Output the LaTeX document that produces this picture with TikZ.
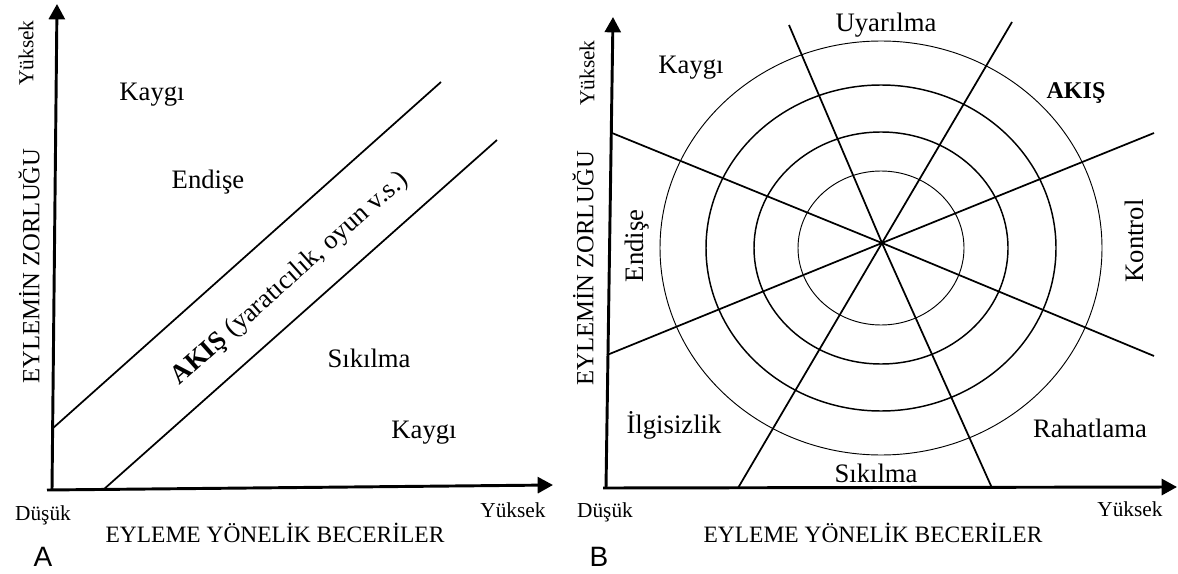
\documentclass[tikz,border=0pt]{standalone}
\usepackage{fontspec}
\setmainfont{Liberation Serif}
\newfontfamily\panelfont{Liberation Sans}
\usetikzlibrary{arrows.meta}
\begin{document}
\begin{tikzpicture}[x=0.75pt,y=-0.75pt,
  axis/.style={line width=2.2pt,-{Triangle[length=11.5pt,width=12pt]}},
  guide/.style={line width=1.3pt},
  ring/.style={line width=0.7pt},
  ringb/.style={line width=1.1pt},
  region/.style={font=\fontsize{20}{24}\selectfont,inner sep=0pt},
  axlabel/.style={font=\fontsize{17.6}{21}\selectfont,inner sep=0pt},
  vlabel/.style={font=\fontsize{18.5}{22}\selectfont,inner sep=0pt,rotate=90},
  endlabel/.style={font=\fontsize{16}{19}\selectfont,inner sep=0pt},
  panel/.style={font=\panelfont\fontsize{21}{25}\selectfont,inner sep=0pt}]
\useasboundingbox (0,0) rectangle (1178,574);

% ---------------- Panel A ----------------
\coordinate (Ao) at (52,490);
\coordinate (Ay) at (57,4);
\coordinate (Axs) at (47,490);
\coordinate (Ax) at (553,485);
\draw[axis] (Ao) -- (Ay);
\draw[axis] (Axs) -- (Ax);

\coordinate (Au1) at (52,429);
\coordinate (Au2) at (441,82);
\coordinate (Al1) at (103,490);
\coordinate (Al2) at (497,140);
\draw[guide] (Au1) -- (Au2);
\draw[guide] (Al1) -- (Al2);

\node[region] (kaygiA) at (152,95) {Kaygı};
\node[region] (endiseA) at (208,182) {Endişe};
\node[region] (sikilmaA) at (369,358) {Sıkılma};
\node[region] (kaygiA2) at (424,433) {Kaygı};
\node[region,rotate=41.7] (akisA) at (290,279) {\textbf{AKIŞ} (yaratıcılık, oyun v.s.)};

\node[vlabel] (yA) at (29,266) {EYLEMİN ZORLUĞU};
\node[endlabel,rotate=90] (yhiA) at (26,53) {Yüksek};
\node[endlabel] (lowA) at (43,515) {Düşük};
\node[endlabel] (xhiA) at (513,510) {Yüksek};
\node[axlabel] (xA) at (275,533) {EYLEME YÖNELİK BECERİLER};
\node[panel] (labA) at (43,557) {A};

% ---------------- Panel B ----------------
\coordinate (Bo) at (606,488);
\coordinate (By) at (613,17);
\coordinate (Bxs) at (603,488);
\coordinate (Bx) at (1177,487);

\coordinate (ctr) at (882,243);
\coordinate (ec) at (881,248);
\draw[ring] (ec) ellipse [x radius=221, y radius=207];
\draw[ringb] (ec) ellipse [x radius=175, y radius=163];
\draw[ringb] (ec) ellipse [x radius=127, y radius=116];
\draw[ring] (ec) ellipse [x radius=83, y radius=77];

\coordinate (r1a) at (612,133);
\coordinate (r1b) at (1154,356);
\coordinate (r2a) at (607,355);
\coordinate (r2b) at (1154,133);
\coordinate (r3a) at (789,25);
\coordinate (r3b) at (992,488);
\coordinate (r4a) at (1012,22);
\coordinate (r4b) at (738,488);
\draw[guide] (r1a) -- (ctr) -- (r1b);
\draw[guide] (r2a) -- (ctr) -- (r2b);
\draw[guide] (r3a) -- (ctr) -- (r3b);
\draw[guide] (r4a) -- (ctr) -- (r4b);

\draw[axis] (Bo) -- (By);
\draw[axis] (Bxs) -- (Bx);

\node[region] (uyar) at (886,25) {Uyarılma};
\node[region] (kaygiB) at (691,68) {Kaygı};
\node[region,font=\bfseries\fontsize{18}{22}\selectfont] (akisB) at (1076,93) {AKIŞ};
\node[region,rotate=90] (endiseB) at (637,246) {Endişe};
\node[region,rotate=90] (kontrol) at (1134,241) {Kontrol};
\node[region] (ilgi) at (674,425) {İlgisizlik};
\node[region] (rahat) at (1090,428) {Rahatlama};
\node[region] (sikilmaB) at (876,473) {Sıkılma};

\node[vlabel] (yB) at (583,268) {EYLEMİN ZORLUĞU};
\node[endlabel,rotate=90] (yhiB) at (587,73) {Yüksek};
\node[endlabel] (lowB) at (605,512) {Düşük};
\node[endlabel] (xhiB) at (1130,509) {Yüksek};
\node[axlabel] (xB) at (873,533) {EYLEME YÖNELİK BECERİLER};
\node[panel] (labB) at (599,557) {B};
\end{tikzpicture}
\end{document}
